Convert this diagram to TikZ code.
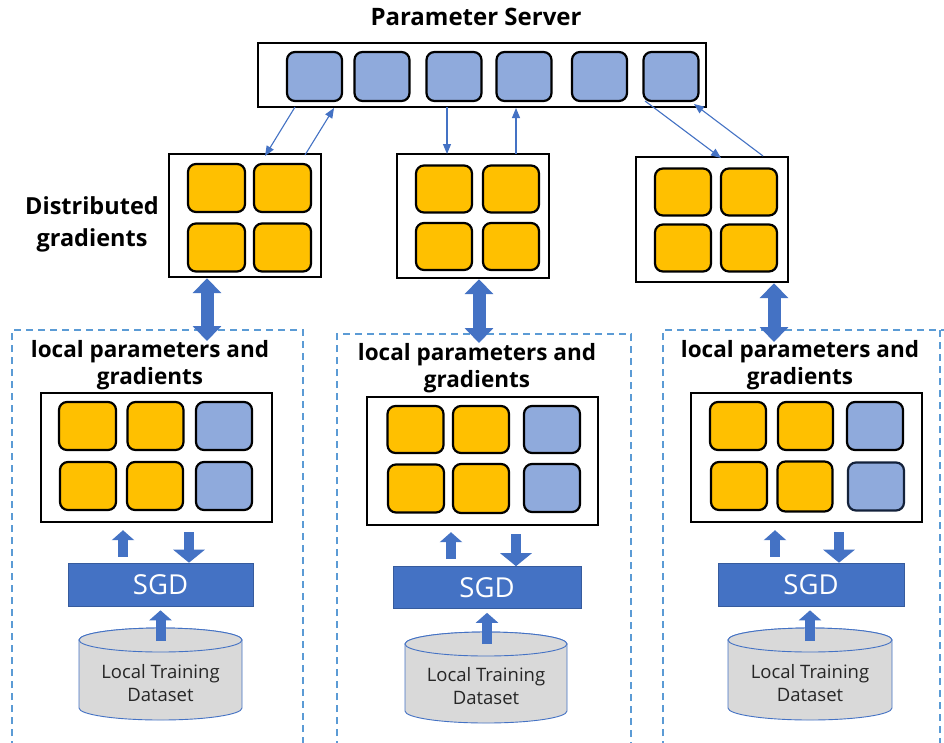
\documentclass[tikz,border=0pt]{standalone}
\usepackage{fontspec}
\setmainfont{Open Sans}
\usetikzlibrary{arrows.meta,calc}
\definecolor{yel}{HTML}{FFC000}
\definecolor{lblue}{HTML}{8FAADC}
\definecolor{mblue}{HTML}{4472C4}
\definecolor{dblue}{HTML}{5B9BD5}
\definecolor{cgray}{HTML}{D9D9D9}
\tikzset{
  sq/.style={draw=black, line width=2.2pt, rounded corners=8pt, minimum width=55pt, minimum height=48pt, inner sep=0pt},
  ysq/.style={sq, fill=yel},
  bsq/.style={sq, fill=lblue},
  frame/.style={draw=black, line width=2.4pt, fill=white, inner sep=0pt},
  dashbox/.style={draw=dblue, line width=1.3pt, dash pattern=on 7pt off 5pt},
  head/.style={font=\fontsize{22.5}{27}\selectfont\bfseries, align=center, inner sep=0pt},
  sgdbox/.style={fill=mblue, draw=mblue!80!black, line width=0.6pt, text=white, font=\fontsize{27.5}{30}\selectfont, inner sep=0pt},
  cylfill/.style={fill=cgray, draw=mblue, line width=0.9pt},
  cyltext/.style={font=\fontsize{18.5}{23}\selectfont, align=center, text=black!85, inner sep=0pt},
  thin/.style={draw=mblue, line width=1.1pt, -{Triangle[length=10pt,width=8pt]}},
  dbl/.style={draw=mblue, line width=13pt, {Triangle[length=15pt,width=28pt]}-{Triangle[length=15pt,width=28pt]}},
  upar/.style={draw=mblue, line width=10pt, -{Triangle[length=10pt,width=22pt]}},
  dnar/.style={draw=mblue, line width=10pt, -{Triangle[length=13pt,width=31pt]}},
}
\newcommand{\mycyl}[4]{% cx, ytop-center, ybottom-center, rx
  \filldraw[cylfill] ({#1-#4},#2) -- ({#1-#4},#3)
    arc[start angle=180,end angle=360,x radius=#4pt,y radius=12pt]
    -- ({#1+#4},#2)
    arc[start angle=0,end angle=180,x radius=#4pt,y radius=12pt] -- cycle;
  \draw[cylfill] (#1,#2) ellipse[x radius=#4pt,y radius=12pt];
}
\begin{document}
\begin{tikzpicture}[x=1pt,y=-1pt]
\useasboundingbox (0,0) rectangle (944,742);
\fill[white] (0,0) rectangle (944,742);

% dashed worker boxes
\draw[dashbox] (12,760) -- (12,330) -- (303,330) -- (303,760);
\draw[dashbox] (337,760) -- (337,334) -- (631,334) -- (631,760);
\draw[dashbox] (663,760) -- (663,330) -- (944,330);
\draw[dashbox] (940,330) -- (940,760);

% parameter server
\node[head, font=\fontsize{24}{28}\selectfont\bfseries] (pstitle) at (476,17) {Parameter Server};
\node[frame, minimum width=448pt, minimum height=64pt] (ps) at (482,75) {};
\node[bsq, minimum height=49pt] (p1) at (314.5,76.5) {};
\node[bsq, minimum height=49pt] (p2) at (382,76.5) {};
\node[bsq, minimum height=49pt] (p3) at (454,76.5) {};
\node[bsq, minimum height=49pt] (p4) at (524,76.5) {};
\node[bsq, minimum height=49pt] (p5) at (599.5,76.5) {};
\node[bsq, minimum height=49pt] (p6) at (671,76.5) {};

% distributed gradients
\node[head, font=\fontsize{23.5}{32}\selectfont\bfseries] (dg) at (92,224) {Distributed\\gradients};

\node[frame, minimum width=152pt, minimum height=123pt] (g1) at (245,215.5) {};
\node[ysq, minimum width=57pt] (g1a) at (216.5,188) {};
\node[ysq, minimum width=57pt] (g1b) at (282.5,188) {};
\node[ysq, minimum width=57pt] (g1c) at (216.5,247.5) {};
\node[ysq, minimum width=57pt] (g1d) at (282.5,247.5) {};

\node[frame, minimum width=152pt, minimum height=124pt] (g2) at (473,216) {};
\node[ysq, minimum width=56pt, minimum height=47pt] (g2a) at (444,189) {};
\node[ysq, minimum width=56pt, minimum height=47pt] (g2b) at (511,189) {};
\node[ysq, minimum width=56pt, minimum height=47pt] (g2c) at (444,246.5) {};
\node[ysq, minimum width=56pt, minimum height=47pt] (g2d) at (511,246.5) {};

\node[frame, minimum width=152pt, minimum height=125pt] (g3) at (712,219.5) {};
\node[ysq, minimum width=56pt, minimum height=47pt] (g3a) at (683,192) {};
\node[ysq, minimum width=56pt, minimum height=47pt] (g3b) at (749,192) {};
\node[ysq, minimum width=56pt, minimum height=47pt] (g3c) at (683,248) {};
\node[ysq, minimum width=56pt, minimum height=47pt] (g3d) at (749,248) {};

% thin arrows between server and gradient boxes
\coordinate (a1s) at (295,107); \coordinate (a1e) at (265,156);
\coordinate (a2s) at (305,155); \coordinate (a2e) at (334,108);
\coordinate (a3s) at (447,107); \coordinate (a3e) at (447,154);
\coordinate (a4s) at (516,154); \coordinate (a4e) at (516,108);
\coordinate (a5s) at (645,101); \coordinate (a5e) at (721,158);
\coordinate (a6s) at (763,156); \coordinate (a6e) at (694,104);
\draw[thin] (a1s) -- (a1e);
\draw[thin] (a2s) -- (a2e);
\draw[thin] (a3s) -- (a3e);
\draw[thin] (a4s) -- (a4e);
\draw[thin] (a5s) -- (a5e);
\draw[thin] (a6s) -- (a6e);

% double arrows
\coordinate (d1) at (207,341);
\coordinate (d2) at (479,343);
\coordinate (d3) at (774,342);
\draw[dbl] (g1.south -| d1) -- (d1);
\draw[dbl] (g2.south -| d2) -- (d2);
\draw[dbl] (g3.south -| d3) -- (d3);

% local headings
\node[head] (h1) at (150,365.5) {local parameters and\\gradients};
\node[head] (h2) at (477,368.5) {local parameters and\\gradients};
\node[head] (h3) at (800,365.5) {local parameters and\\gradients};

% local boxes
\node[frame, minimum width=231pt, minimum height=129pt] (l1) at (156.5,457.5) {};
\node[ysq, minimum width=57pt] (l1a) at (87.5,426) {};
\node[ysq, minimum width=56pt] (l1b) at (155.5,426) {};
\node[bsq, minimum width=56pt] (l1c) at (224,426) {};
\node[ysq, minimum width=56pt] (l1d) at (88,486) {};
\node[ysq, minimum width=56pt] (l1e) at (155,486) {};
\node[bsq, minimum width=56pt] (l1f) at (224,486) {};

\node[frame, minimum width=231pt, minimum height=128pt] (l2) at (482.5,461) {};
\node[ysq, minimum width=56pt, minimum height=47pt] (l2a) at (415.5,429.5) {};
\node[ysq, minimum width=56pt, minimum height=47pt] (l2b) at (481,429.5) {};
\node[bsq, minimum width=56pt, minimum height=47pt] (l2c) at (552,429.5) {};
\node[ysq, minimum width=56pt, minimum height=48pt] (l2d) at (416,488.5) {};
\node[ysq, minimum width=56pt, minimum height=49pt] (l2e) at (481,488.5) {};
\node[bsq, minimum width=56pt, minimum height=48pt] (l2f) at (552,488) {};

\node[frame, minimum width=231pt, minimum height=129pt] (l3) at (806.5,457.5) {};
\node[ysq, minimum width=56pt] (l3a) at (738,426) {};
\node[ysq, minimum width=55pt] (l3b) at (805.5,426) {};
\node[bsq, minimum width=56pt] (l3c) at (875,426) {};
\node[ysq, minimum width=56pt] (l3d) at (739,486) {};
\node[ysq, minimum width=55pt, minimum height=50pt] (l3e) at (805,486.5) {};
\node[bsq, minimum width=56pt, draw=black!70!mblue] (l3f) at (876,486.5) {};

% SGD boxes
\node[sgdbox, minimum width=185pt, minimum height=43pt] (s1) at (160.5,584.5) {SGD};
\node[sgdbox, minimum width=188pt, minimum height=42pt] (s2) at (487,587.5) {SGD};
\node[sgdbox, minimum width=186pt, minimum height=43pt] (s3) at (811,584.5) {SGD};

% cylinders
\mycyl{160.5}{640}{708}{81.5}
\mycyl{486}{644}{711}{81}
\mycyl{810}{640}{708}{82}
\node[cyltext] (c1) at (160.5,683.5) {Local Training\\Dataset};
\node[cyltext] (c2) at (486,686.5) {Local Training\\Dataset};
\node[cyltext] (c3) at (810,683.5) {Local Training\\Dataset};
\coordinate (c1t) at (160.5,641);
\coordinate (c2t) at (487,644);
\coordinate (c3t) at (810,641);

% small block arrows
\coordinate (u1) at (123,0); \coordinate (w1) at (189,0);
\coordinate (u2) at (451,0); \coordinate (w2) at (516,0);
\coordinate (u3) at (775,0); \coordinate (w3) at (839,0);
\draw[upar, shorten <=6pt, shorten >=7pt] (s1.north -| u1) -- (l1.south -| u1);
\draw[dnar, shorten <=9pt] (l1.south -| w1) -- (s1.north -| w1);
\draw[upar, shorten <=7pt, shorten >=6pt] (s2.north -| u2) -- (l2.south -| u2);
\draw[dnar, shorten <=8pt] (l2.south -| w2) -- (s2.north -| w2);
\draw[upar, shorten <=6pt, shorten >=7pt] (s3.north -| u3) -- (l3.south -| u3);
\draw[dnar, shorten <=9pt] (l3.south -| w3) -- (s3.north -| w3);
\draw[upar, shorten >=4pt] (c1t) -- (s1.south -| c1t);
\draw[upar, shorten >=4pt] (c2t) -- (s2.south -| c2t);
\draw[upar, shorten >=4pt] (c3t) -- (s3.south -| c3t);
\end{tikzpicture}
\end{document}
